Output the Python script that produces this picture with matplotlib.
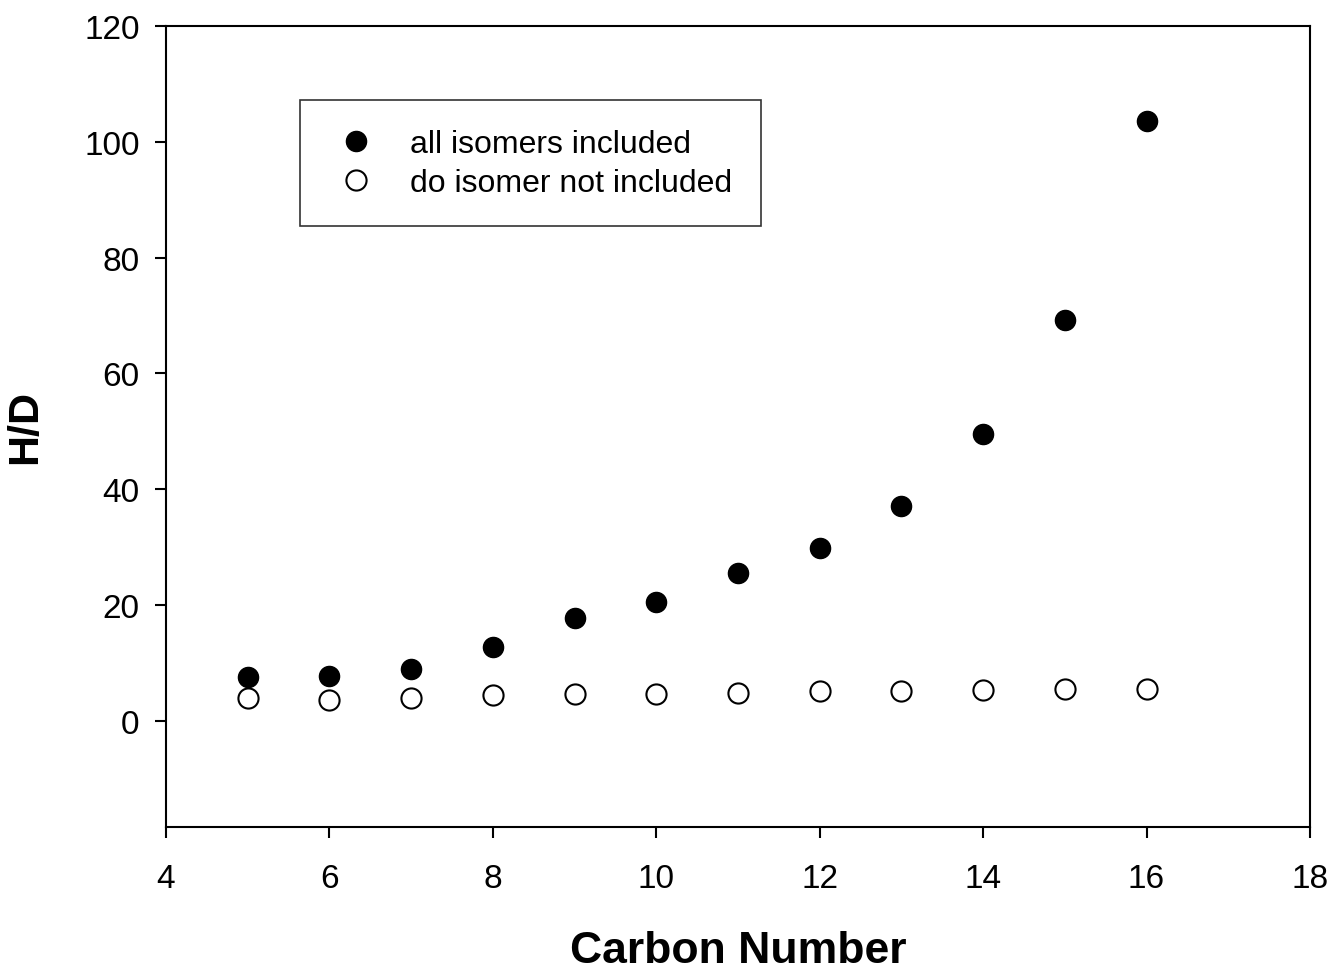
import matplotlib
matplotlib.use("Agg")
import matplotlib.pyplot as plt

carbon = [5, 6, 7, 8, 9, 10, 11, 12, 13, 14, 15, 16]
all_isomers = [7.6, 7.7, 8.9, 12.8, 17.8, 20.5, 25.5, 29.9, 37.2, 49.5, 69.2, 103.6]
no_do_isomer = [4.0, 3.6, 4.0, 4.5, 4.7, 4.7, 4.9, 5.1, 5.2, 5.4, 5.6, 5.5]

xticks = [4, 6, 8, 10, 12, 14, 16, 18]
yticks = [0, 20, 40, 60, 80, 100, 120]

plt.rcParams['font.family'] = ['Liberation Sans', 'DejaVu Sans']

fig = plt.figure(figsize=(13.34, 9.70), dpi=100)
ax = fig.add_axes([0.1244, 0.1464, 0.982 - 0.1244, 0.9722 - 0.1464])

ax.plot(carbon, all_isomers, linestyle='none', marker='o', markersize=14.5,
        markerfacecolor='black', markeredgecolor='black', label='all isomers included')
ax.plot(carbon, no_do_isomer, linestyle='none', marker='o', markersize=14.5,
        markerfacecolor='white', markeredgecolor='black', markeredgewidth=1.5,
        label='do isomer not included')

ax.set_xlim(4, 18)
ax.set_ylim(-18.3, 120)
ax.set_xticks(xticks)
ax.set_yticks(yticks)
ax.tick_params(axis='both', direction='out', length=8, width=1.5, labelsize=24,
               top=False, right=False)
ax.tick_params(axis='x', pad=18)
ax.tick_params(axis='y', pad=11)
for s in ax.spines.values():
    s.set_linewidth(1.5)

ax.set_xlabel('Carbon Number', fontsize=32, fontweight='bold', labelpad=26)
ax.set_ylabel('H/D', fontsize=31, fontweight='bold', labelpad=28)

leg = ax.legend(loc='upper left', bbox_to_anchor=(300 / 1334, 1 - 101 / 970),
                bbox_transform=fig.transFigure, fontsize=23, frameon=True,
                fancybox=False, edgecolor='black', borderpad=0.9,
                handlelength=1.7, handletextpad=0.85, labelspacing=0.28,
                borderaxespad=0, markerscale=1.0)
leg.get_frame().set_linewidth(1.2)
fig.savefig('out.png', dpi=100)
